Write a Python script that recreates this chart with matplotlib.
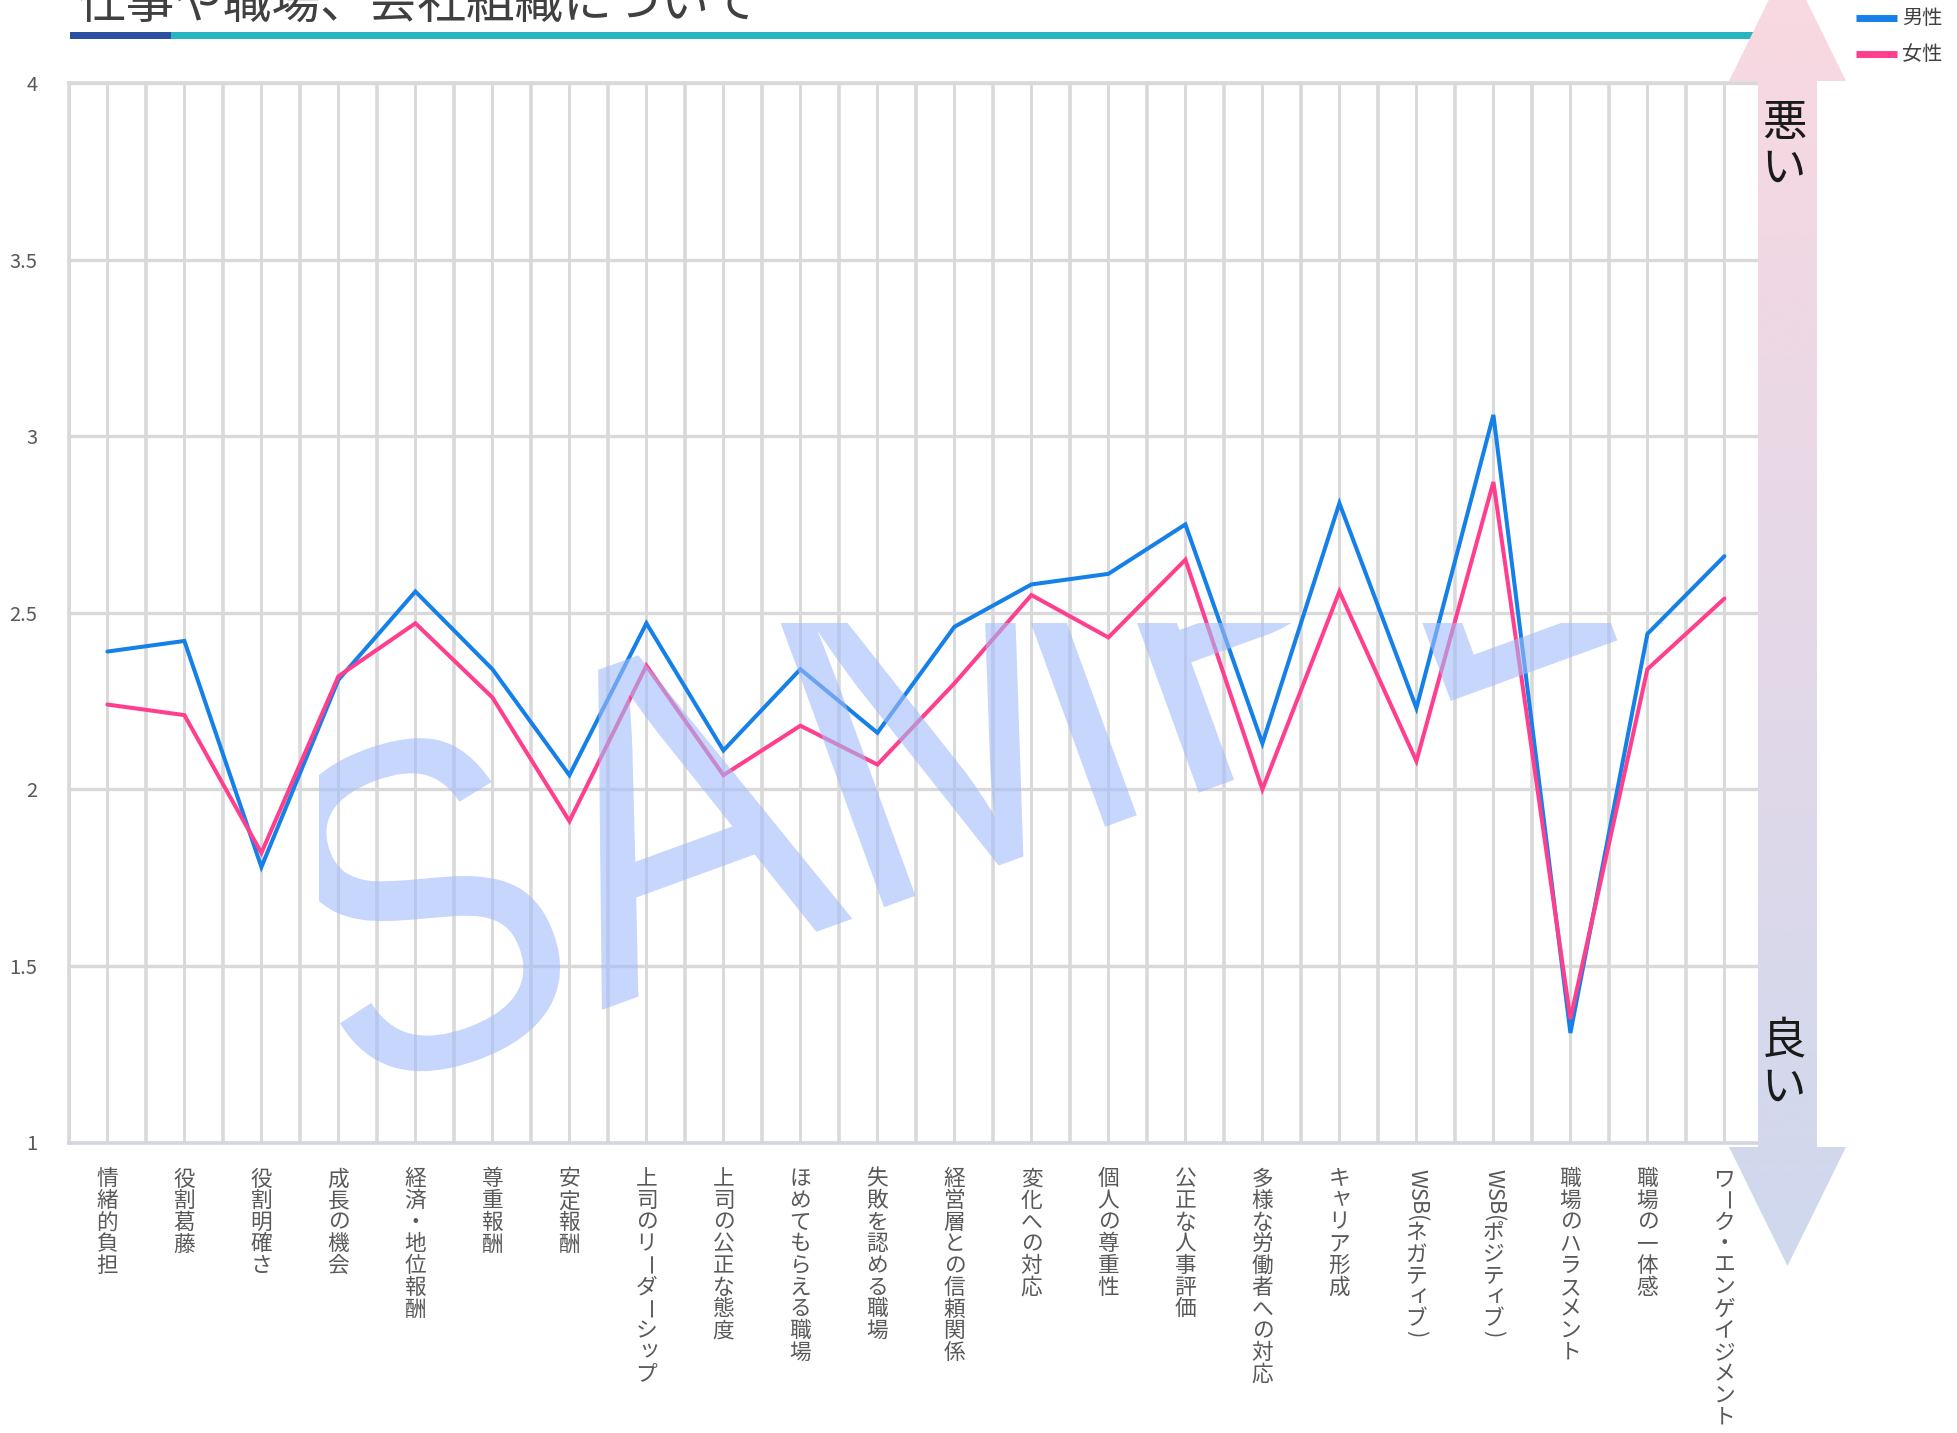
import numpy as np
import matplotlib
matplotlib.use("Agg")
import matplotlib.pyplot as plt
from matplotlib.font_manager import FontProperties, findfont, get_font
from matplotlib.textpath import TextPath
from matplotlib.patches import PathPatch, Polygon, Rectangle
from matplotlib.transforms import Affine2D, Bbox, TransformedBbox
from matplotlib.lines import Line2D

plt.rcParams['font.family'] = ['Noto Sans CJK JP', 'DejaVu Sans']

# ---------------- data ----------------
title = "仕事や職場、会社組織について"
categories = [
    "情緒的負担", "役割葛藤", "役割明確さ", "成長の機会", "経済・地位報酬", "尊重報酬",
    "安定報酬", "上司のリーダーシップ", "上司の公正な態度", "ほめてもらえる職場",
    "失敗を認める職場", "経営層との信頼関係", "変化への対応", "個人の尊重性",
    "公正な人事評価", "多様な労働者への対応", "キャリア形成", "WSB(ネガティブ)",
    "WSB(ポジティブ)", "職場のハラスメント", "職場の一体感", "ワーク・エンゲイジメント",
]
series_names = ["男性", "女性"]
male = [2.39, 2.42, 1.78, 2.31, 2.56, 2.34, 2.04, 2.47, 2.11, 2.34, 2.16,
        2.46, 2.58, 2.61, 2.75, 2.13, 2.81, 2.23, 3.06, 1.31, 2.44, 2.66]
female = [2.24, 2.21, 1.82, 2.32, 2.47, 2.26, 1.91, 2.35, 2.04, 2.18, 2.07,
          2.30, 2.55, 2.43, 2.65, 2.00, 2.56, 2.08, 2.87, 1.35, 2.34, 2.54]
ytick_values = [1, 1.5, 2, 2.5, 3, 3.5, 4]
ytick_labels = ["1", "1.5", "2", "2.5", "3", "3.5", "4"]
arrow_top_label = "悪い"
arrow_bottom_label = "良い"
watermark = "SAMPLE"

# ---------------- style ----------------
BLUE = '#1580e8'
PINK = '#ff3e8e'
GRID = '#d9d9d9'
TICK_COLOR = '#595959'
LABEL_FS = 15.6
LABEL_START = 18.8

W, H, DPI = 1957, 1433, 100
fig = plt.figure(figsize=(W / DPI, H / DPI), dpi=DPI)
fig.patch.set_facecolor('white')


def fx(px):
    return px / W


def fy(py):
    return 1 - py / H


ax = fig.add_axes([fx(68.9), fy(1142.5), fx(1762.9) - fx(68.9), fy(82.9) - fy(1142.5)])

x = np.arange(len(categories))
ax.plot(x, male, color=BLUE, lw=2.9, solid_joinstyle='miter', solid_capstyle='round', zorder=3)
ax.plot(x, female, color=PINK, lw=2.9, solid_joinstyle='miter', solid_capstyle='round', zorder=3)

ax.set_xlim(-0.5, len(categories) - 0.5)
ax.set_ylim(ytick_values[0], ytick_values[-1])
ax.set_xticks(x)
ax.set_xticks(np.arange(-0.5, len(categories), 1.0), minor=True)
ax.set_xticklabels([])
ax.set_yticks(ytick_values)
ax.set_yticklabels(ytick_labels)
ax.tick_params(axis='both', which='both', length=0)
ax.tick_params(axis='y', pad=22.6, labelsize=14.5, labelcolor=TICK_COLOR)
ax.grid(axis='x', which='major', color=GRID, lw=2.1)
ax.grid(axis='x', which='minor', color=GRID, lw=2.6)
ax.grid(axis='y', which='major', color=GRID, lw=2.4)
ax.set_axisbelow(True)
for s in ax.spines.values():
    s.set_color(GRID)
    s.set_linewidth(2.6)
ax.spines['bottom'].set_color('#d3d6de')

# ---------------- vertical category labels ----------------
fp = FontProperties(family='Noto Sans CJK JP', size=LABEL_FS)
ft = get_font(findfont(fp))
ft.set_size(LABEL_FS, 72)


def advance(ch):
    g = ft.load_char(ord(ch))
    return g.linearHoriAdvance / 65536.0


SMALL = set('ャュョァィゥェォッゃゅょぁぃぅぇぉっ')
xt = ax.get_xaxis_transform()
for i, lab in enumerate(categories):
    pos = LABEL_START
    em = LABEL_FS
    for ch in lab:
        common = dict(xy=(i, 0), xycoords=xt, textcoords='offset points',
                      fontsize=LABEL_FS, color=TICK_COLOR, annotation_clip=False,
                      family=['Noto Sans CJK JP', 'DejaVu Sans'])
        if ord(ch) < 128:
            w = advance(ch)
            ax.annotate(ch, xytext=(0, -pos), rotation=-90, rotation_mode='anchor',
                        ha='left', va='center', **common)
            pos += w
        elif ch == 'ー':
            ax.annotate(ch, xytext=(0, -(pos + em / 2)), rotation=-90, rotation_mode='anchor',
                        ha='center', va='center', **common)
            pos += em
        else:
            dx, dy = (0.12 * em, 0.12 * em) if ch in SMALL else (0, 0)
            ax.annotate(ch, xytext=(dx, -(pos + em / 2) + dy), ha='center', va='center', **common)
            pos += em

# ---------------- watermark ----------------
wm_fp = FontProperties(family='Liberation Sans')
tp = TextPath((0, 0), watermark, size=402, prop=wm_fp)
bx, by = ax.transData.transform((3.14, 1.115))
wm = PathPatch(tp, transform=Affine2D().scale(1.0, 1.16).rotate_deg(20).translate(bx, by),
               facecolor='#a3bbfa', edgecolor='none', alpha=0.6, zorder=5)
ax.add_artist(wm)
wm.set_clip_box(TransformedBbox(Bbox([[2.75, 1.0], [21.5, 2.47]]), ax.transData))

# ---------------- overlay (title, arrow, legend) ----------------
ov = fig.add_axes([0, 0, 1, 1], zorder=10)
ov.axis('off')

ov.text(77.5, 17.3, title, fontsize=35, color='#404040', ha='left', va='baseline')
ov.add_patch(Rectangle((70, 32.3), 101, 7, facecolor='#2e50a0', edgecolor='none'))
ov.add_patch(Rectangle((171, 32.3), 1591, 7, facecolor='#26b5c1', edgecolor='none'))

pts = [(1787.5, -38), (1846, 81), (1817, 81), (1817, 1147), (1846, 1147), (1787.5, 1266),
       (1729, 1147), (1758, 1147), (1758, 81), (1729, 81)]
poly = Polygon(pts, closed=True, facecolor='none', edgecolor='none')
ov.add_patch(poly)
grad = np.linspace(0, 1, 256)[:, None, None]
top_c = np.array([250, 216, 225]) / 255.0
bot_c = np.array([207, 216, 238]) / 255.0
img = top_c[None, None, :] + (bot_c - top_c)[None, None, :] * grad
im = ov.imshow(img, extent=(1729, 1846, 1266, -38), aspect='auto',
               interpolation='bilinear', origin='upper', zorder=1)
im.set_clip_path(poly)

for k, ch in enumerate(arrow_top_label):
    ov.text(1784, 123 + 46 * k, ch, fontsize=32, ha='center', va='center', color='#1a1a1a', zorder=3)
for k, ch in enumerate(arrow_bottom_label):
    ov.text(1784, 1040 + 48 * k, ch, fontsize=32, ha='center', va='center', color='#1a1a1a', zorder=3)

for k, (name, col) in enumerate(zip(series_names, [BLUE, PINK])):
    yy = 18 + 36 * k
    ov.add_line(Line2D([1856, 1897], [yy, yy], color=col, lw=5, solid_capstyle='butt'))
    ov.text(1902, yy, name, fontsize=14.5, va='center', ha='left', color='#404040')

ov.set_xlim(0, W)
ov.set_ylim(H, 0)

fig.savefig('out.png', dpi=DPI, facecolor='white')
